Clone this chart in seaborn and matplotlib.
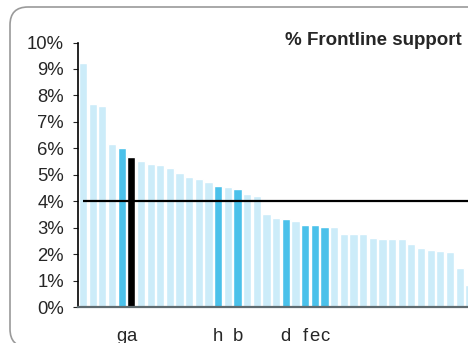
import numpy as np
import pandas as pd
import matplotlib
matplotlib.use("Agg")
import matplotlib.pyplot as plt
from matplotlib.patches import FancyBboxPatch
from matplotlib.transforms import IdentityTransform
import seaborn as sns

# Share of frontline support, sorted high to low (in %)
values = [9.24, 7.69, 7.61, 6.17, 6.02, 5.68, 5.53, 5.42, 5.38, 5.27,
          5.08, 4.92, 4.85, 4.73, 4.58, 4.55, 4.47, 4.28, 4.20, 3.52,
          3.37, 3.33, 3.26, 3.11, 3.11, 3.03, 3.03, 2.77, 2.77, 2.77,
          2.61, 2.58, 2.58, 2.58, 2.39, 2.24, 2.16, 2.12, 2.08, 1.48, 0.84]
# Letters shown under highlighted bars (blank for the rest)
labels = ["", "", "", "", "g", "a", "", "", "", "",
          "", "", "", "", "h", "", "b", "", "", "",
          "", "d", "", "f", "e", "c", "", "", "", "",
          "", "", "", "", "", "", "", "", "", "", ""]
target = 4.0
title = "% Frontline support"

LIGHT = "#CCECF9"
BLUE = "#4BC1EA"
colors = []
for lab in labels:
    if lab == "a":
        colors.append("black")
    elif lab:
        colors.append(BLUE)
    else:
        colors.append(LIGHT)

df = pd.DataFrame({"pos": range(len(values)), "value": values})

sns.set_style("white")
plt.rcParams["font.family"] = ["Liberation Sans", "DejaVu Sans"]

fig = plt.figure(figsize=(4.68, 3.43), dpi=100)
ax = fig.add_axes([78 / 468, 36 / 343, 401 / 468, 264.5 / 343])

sns.barplot(data=df, x="pos", y="value", hue="pos", palette=colors,
            legend=False, width=0.85, saturation=1, ax=ax)

ax.hlines(target, 0, 41, color="black", lw=1.6, zorder=5)

ax.set_xlim(-0.52, 41)
ax.set_ylim(0, 10)
ax.set_yticks(range(0, 11))
ax.set_yticklabels([f"{v}%" for v in range(0, 11)], fontsize=13.3)
ax.set_xticks(range(len(labels)))
ax.set_xticklabels(labels, fontsize=13.3)
ax.tick_params(axis="x", length=0, pad=15)
ax.tick_params(axis="y", length=3.6, width=0.8, pad=6.5, left=True)
ax.set_xlabel("")
ax.set_ylabel("")

for side in ["top", "right"]:
    ax.spines[side].set_visible(False)
ax.spines["left"].set_color("black")
ax.spines["left"].set_linewidth(1.2)
ax.spines["bottom"].set_color("#5f6b70")
ax.spines["bottom"].set_linewidth(1.6)
ax.spines["bottom"].set_zorder(6)

fig.text(462 / 468, (343 - 45) / 343, title, ha="right", va="baseline",
         fontsize=13.5, fontweight="bold")

# rounded frame around the chart (runs off the right and bottom edges)
frame = FancyBboxPatch((10, -4), 480, 340, boxstyle="round,pad=0,rounding_size=18",
                       transform=IdentityTransform(), fill=False,
                       edgecolor="#9a9a9a", lw=1.2)
fig.add_artist(frame)

plt.savefig("out.png", dpi=100)
